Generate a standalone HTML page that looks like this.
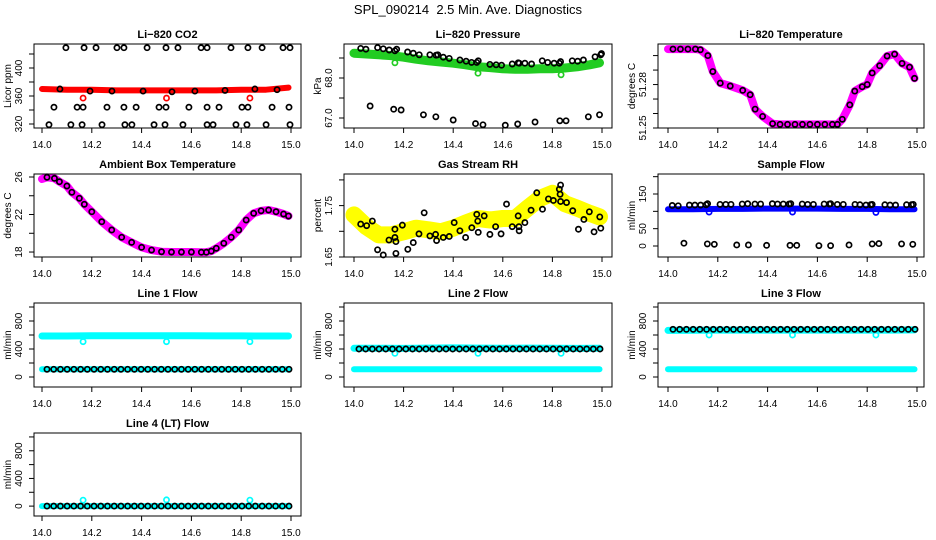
<!DOCTYPE html>
<html><head><meta charset="utf-8"><title>SPL_090214 Diagnostics</title>
<style>
html,body{margin:0;padding:0;background:#fff;}
svg{display:block;font-family:"Liberation Sans",Arial,sans-serif;}
</style></head>
<body>
<svg id="chart" width="936" height="540" viewBox="0 0 936 540" xmlns="http://www.w3.org/2000/svg">
<rect x="0" y="0" width="936" height="540" fill="#fff"/>
<text x="468" y="14" text-anchor="middle" font-size="13">SPL_090214&#160; 2.5 Min. Ave. Diagnostics</text>
</svg>
<script>
// ---------- data ----------
const xTicks = [14.0, 14.2, 14.4, 14.6, 14.8, 15.0];
const xTickLabels = ["14.0", "14.2", "14.4", "14.6", "14.8", "15.0"];
const stepX = [14.0,14.1,14.2,14.3,14.4,14.5,14.6,14.7,14.8,14.9,14.99];
const halfStepX = [14.0,14.05,14.1,14.15,14.2,14.25,14.3,14.35,14.4,14.45,14.5,14.55,14.6,14.65,14.7,14.75,14.8,14.85,14.9,14.95,14.99];
const outlierX = [14.165, 14.5, 14.835];

// CO2
const co2Red = [370,369,369,368,368,368,368,368,369,369,372];
const co2RedOut = [357,357,357];
const co2TopX = [14.096,14.169,14.217,14.301,14.329,14.422,14.498,14.546,14.639,14.663,14.759,14.827,14.884,14.968,14.996];
const co2TopV = [429,429,429,429,429,429,429,429,429,429,429,429,429,429,429];
const co2MidX = [14.072,14.193,14.281,14.406,14.522,14.614,14.735,14.855,14.944];
const co2MidV = [370,367,367,367,366,367,368,370,369];
const co2LowX = [14.048,14.141,14.165,14.261,14.329,14.378,14.470,14.498,14.590,14.663,14.711,14.803,14.827,14.924,14.992];
const co2LowV = [344,344,344,344,344,344,344,344,344,344,344,344,344,344,344];
const co2BotX = [14.028,14.116,14.161,14.241,14.333,14.361,14.450,14.494,14.566,14.663,14.687,14.779,14.823,14.9,14.996];
const co2BotV = [319,319,319,319,319,319,319,319,319,319,319,319,319,319,319];

// Pressure
const presGreen = [68.62,68.6,68.58,68.56,68.52,68.47,68.43,68.4,68.37,68.33,68.28,68.26,68.23,68.22,68.22,68.23,68.23,68.25,68.28,68.33,68.38];
const presGreenOut = [68.38,68.12,68.08];
const presBX = [14.027,14.048,14.095,14.118,14.142,14.165,14.172,14.216,14.239,14.263,14.306,14.331,14.338,14.36,14.384,14.427,14.452,14.474,14.495,14.501,14.548,14.573,14.595,14.638,14.662,14.666,14.689,14.716,14.759,14.781,14.807,14.828,14.833,14.88,14.902,14.925,14.972,14.995,14.998];
const presBV = [68.74,68.72,68.76,68.73,68.70,68.68,68.72,68.65,68.62,68.58,68.58,68.57,68.58,68.52,68.49,68.45,68.42,68.39,68.39,68.43,68.34,68.33,68.32,68.35,68.38,68.37,68.37,68.35,68.43,68.39,68.37,68.37,68.41,68.43,68.42,68.45,68.53,68.58,68.61];
const presLX = [14.065,14.16,14.19,14.28,14.33,14.4,14.49,14.52,14.61,14.66,14.73,14.83,14.855,14.945,14.99];
const presLV = [67.3,67.22,67.2,67.08,67.03,66.95,66.86,66.83,66.82,66.85,66.9,66.93,66.93,67.03,67.08];

// Li-820 temperature
const licTX = [14.0,14.02,14.05,14.08,14.11,14.13,14.16,14.18,14.21,14.25,14.3,14.33,14.35,14.38,14.42,14.45,14.48,14.51,14.54,14.57,14.6,14.63,14.66,14.68,14.7,14.73,14.75,14.78,14.8,14.82,14.85,14.88,14.91,14.94,14.97,14.99];
const licTV = [51.3045,51.3045,51.3045,51.3045,51.3045,51.304,51.300,51.289,51.281,51.279,51.276,51.273,51.263,51.258,51.253,51.2525,51.2525,51.2525,51.2525,51.2525,51.2525,51.2525,51.2525,51.2525,51.256,51.266,51.2755,51.2785,51.28,51.288,51.293,51.2997,51.301,51.2946,51.292,51.2843];

// Ambient box temperature
const ambX = [14.0,14.02,14.05,14.07,14.1,14.12,14.15,14.17,14.2,14.24,14.28,14.32,14.36,14.4,14.44,14.48,14.52,14.56,14.6,14.64,14.66,14.68,14.7,14.73,14.76,14.79,14.82,14.85,14.88,14.91,14.94,14.97,14.99];
const ambV = [25.79,25.97,25.86,25.5,25.04,24.37,23.73,23.09,22.3,21.23,20.35,19.57,19.03,18.5,18.21,18.03,18.0,18.0,18.0,17.98,17.98,18.1,18.4,18.93,19.57,20.35,21.41,22.13,22.4,22.48,22.3,22.05,21.84];

// Gas stream RH
const rhYellow = [1.732,1.709,1.693,1.693,1.699,1.706,1.703,1.699,1.706,1.716,1.725,1.722,1.725,1.725,1.745,1.764,1.774,1.754,1.745,1.735,1.728];
const rhBX = [14.027,14.051,14.074,14.095,14.118,14.141,14.165,14.165,14.169,14.169,14.195,14.217,14.239,14.262,14.283,14.306,14.329,14.333,14.36,14.384,14.404,14.427,14.45,14.475,14.495,14.499,14.501,14.525,14.548,14.571,14.593,14.615,14.638,14.662,14.665,14.666,14.689,14.714,14.737,14.76,14.784,14.804,14.828,14.831,14.833,14.833,14.857,14.882,14.905,14.927,14.949,14.968,14.991,14.995];
const rhBV = [1.714,1.711,1.720,1.664,1.654,1.683,1.704,1.688,1.680,1.657,1.712,1.665,1.678,1.695,1.736,1.691,1.694,1.682,1.688,1.690,1.717,1.701,1.688,1.707,1.733,1.720,1.698,1.730,1.694,1.709,1.695,1.753,1.709,1.730,1.709,1.701,1.717,1.741,1.775,1.743,1.763,1.760,1.782,1.772,1.790,1.758,1.756,1.740,1.704,1.723,1.738,1.699,1.728,1.706];

// Sample flow
const sfBlue = [106,106,107,107,108,108,108,107,107,106,106];
const sfBlueOut = [98,98,97];
const sfHiX = [14.017,14.041,14.086,14.108,14.131,14.153,14.159,14.209,14.232,14.253,14.298,14.32,14.349,14.372,14.419,14.44,14.463,14.486,14.493,14.539,14.561,14.584,14.627,14.648,14.653,14.68,14.704,14.751,14.771,14.795,14.814,14.82,14.871,14.892,14.914,14.958,14.978,14.985];
const sfHiV = [117,116,118,118,118,119,122,120,120,120,121,122,121,121,122,121,121,121,122,121,120,120,121,121,122,120,120,120,119,118,119,120,119,118,118,119,119,120];
const sfLoX = [14.064,14.158,14.186,14.276,14.323,14.396,14.49,14.517,14.606,14.653,14.727,14.82,14.847,14.938,14.983];
const sfLoV = [8,6,5,3,3,2,2,2,1,1,3,6,7,6,5];

// Line flows (black points at common times)
const flowT = [14.02,14.047,14.074,14.101,14.128,14.155,14.182,14.209,14.236,14.263,14.29,14.317,14.344,14.371,14.398,14.425,14.452,14.479,14.506,14.533,14.56,14.587,14.614,14.641,14.668,14.695,14.722,14.749,14.776,14.803,14.83,14.857,14.884,14.911,14.938,14.965,14.992];
const line1Black = [110,110,110,110,110,110,110,110,110,110,110,110,110,110,110,110,110,110,110,110,110,110,110,110,110,110,110,110,110,110,110,110,110,110,110,110,110];
const line1CyanHi = [586,586,588,590,590,589,588,587,587,586,586];
const line1CyanLo = [110,110,110,110,110,110,110,110,110,110,110];
const line1Out = [505,505,505];
const line2Black = [400,400,400,400,400,400,400,400,400,400,400,400,400,400,400,400,400,400,400,400,400,400,400,400,400,400,400,400,400,400,400,400,400,400,400,400,400];
const line2CyanHi = [410,410,408,412,415,412,410,412,410,408,410];
const line2CyanLo = [110,110,110,110,110,110,110,110,110,110,110];
const line2Out = [338,338,338];
const line3Black = [681,681,681,681,681,681,681,681,681,681,681,681,681,681,681,681,681,681,681,681,681,681,681,681,681,681,681,681,681,681,681,681,681,681,681,681,681];
const line3CyanHi = [666,668,670,670,670,670,670,670,670,670,672];
const line3CyanLo = [110,110,110,110,110,110,110,110,110,110,110];
const line3Out = [600,600,600];
const line4Black = [0,0,0,0,0,0,0,0,0,0,0,0,0,0,0,0,0,0,0,0,0,0,0,0,0,0,0,0,0,0,0,0,0,0,0,0,0];
const line4Cyan = [0,0,0,0,0,0,0,0,0,0,0];
const line4Out = [86,90,86];

// ---------- drawing ----------
const NS = "http://www.w3.org/2000/svg";
const svg = document.getElementById("chart");
const COLS = [{L:34,R:301,x0:42,x1:291},{L:344,R:612,x0:354,x1:602},{L:658,R:924,x0:668,x1:917}];
const ROWS = [{T:44,B:128},{T:174,B:257},{T:303,B:387},{T:433,B:516}];

function el(tag, name, parent) {
  const e = document.createElementNS(NS, tag);
  
  
  parent.appendChild(e);
  return e;
}
function set(e, o) { for (const k in o) e.setAttribute(k, o[k]); return e; }

function panel(ci, ri, key, title, ylab, ymin, ymax, ticks, labels) {
  const c = COLS[ci], r = ROWS[ri];
  const g = el("g", key + "-panel", svg);
  const sx = v => c.x0 + (v - 14) * (c.x1 - c.x0);
  const sy = v => r.B - (v - ymin) / (ymax - ymin) * (r.B - r.T);
  const t = el("text", key + "-title", g);
  set(t, {x:(c.L + c.R) / 2, y:r.T - 6, "text-anchor":"middle", "font-size":11, "font-weight":"bold"});
  t.textContent = title;
  const yl = el("text", key + "-y-axis-title", g);
  set(yl, {transform:`translate(${c.L - 23},${(r.T + r.B) / 2}) rotate(-90)`, "text-anchor":"middle", "font-size":10});
  yl.textContent = ylab;
  xTicks.forEach((v, i) => {
    const tk = el("line", key + "-x-tick", g);
    set(tk, {x1:sx(v), x2:sx(v), y1:r.B, y2:r.B + 5, stroke:"#000", "stroke-width":1});
    const tl = el("text", key + "-x-tick-label", g);
    set(tl, {x:sx(v), y:r.B + 20, "text-anchor":"middle", "font-size":10});
    tl.textContent = xTickLabels[i];
  });
  ticks.forEach(v => {
    const tk = el("line", key + "-y-tick", g);
    set(tk, {x1:c.L - 5, x2:c.L, y1:sy(v), y2:sy(v), stroke:"#000", "stroke-width":1});
  });
  labels.forEach(lb => {
    const tl = el("text", key + "-y-tick-label", g);
    set(tl, {transform:`translate(${c.L - 12},${sy(lb[0])}) rotate(-90)`, "text-anchor":"middle", "font-size":10});
    tl.textContent = lb[1];
  });
  const marks = el("g", key + "-marks", g);
  const box = el("rect", key + "-plot-box", g);
  set(box, {x:c.L, y:r.T, width:c.R - c.L, height:r.B - r.T, fill:"none", stroke:"#000", "stroke-width":1});
  return {sx, sy, g:marks, key};
}
function band(p, xs, vs, color, w, name) {
  const pts = xs.map((x, i) => p.sx(x).toFixed(1) + "," + p.sy(vs[i]).toFixed(1)).join(" ");
  const pl = el("polyline", name, p.g);
  set(pl, {points:pts, fill:"none", stroke:color, "stroke-width":w, "stroke-linejoin":"round", "stroke-linecap":"round"});
}
function pts(p, xs, vs, color, name, r, sw) {
  xs.forEach((x, i) => {
    const ci = el("circle", name, p.g);
    set(ci, {cx:p.sx(x), cy:p.sy(vs[i]), r:r || 2.6, fill:"none", stroke:color, "stroke-width":sw || 1.7});
  });
}

// Li-820 CO2
let p = panel(0, 0, "co2", "Li\u2212820 CO2", "Licor ppm", 314.3, 434.3, [320,340,360,380,400,420], [[320,"320"],[360,"360"],[400,"400"]]);
band(p, stepX, co2Red, "#ff0000", 6, "co2-red-band");
pts(p, outlierX, co2RedOut, "#ff0000", "co2-red-point");
pts(p, co2TopX, co2TopV, "#000", "co2-black-point");
pts(p, co2MidX, co2MidV, "#000", "co2-black-point");
pts(p, co2LowX, co2LowV, "#000", "co2-black-point");
pts(p, co2BotX, co2BotV, "#000", "co2-black-point");

// Pressure
p = panel(1, 0, "pressure", "Li\u2212820 Pressure", "kPa", 66.75, 68.85, [67.0,67.5,68.0,68.5], [[67.0,"67.0"],[68.0,"68.0"]]);
band(p, halfStepX, presGreen, "#22cc22", 9, "pressure-green-band");
pts(p, outlierX, presGreenOut, "#22cc22", "pressure-green-point");
pts(p, presBX, presBV, "#000", "pressure-black-point");
pts(p, presLX, presLV, "#000", "pressure-black-point");

// Li-820 temperature
p = panel(2, 0, "li820-temp", "Li\u2212820 Temperature", "degrees C", 51.25, 51.308, [51.25,51.26,51.27,51.28,51.29,51.30], [[51.25,"51.25"],[51.28,"51.28"]]);
band(p, licTX, licTV, "#ff00ff", 8, "li820-temp-magenta-band");
pts(p, licTX.slice(1), licTV.slice(1), "#000", "li820-temp-black-point");

// Ambient box temperature
p = panel(0, 1, "ambient-temp", "Ambient Box Temperature", "degrees C", 17.47, 26.32, [18,20,22,24,26], [[18,"18"],[22,"22"],[26,"26"]]);
band(p, ambX, ambV, "#ff00ff", 8, "ambient-temp-magenta-band");
pts(p, ambX.slice(1), ambV.slice(1), "#000", "ambient-temp-black-point");

// Gas stream RH
p = panel(1, 1, "rh", "Gas Stream RH", "percent", 1.65, 1.8115, [1.65,1.70,1.75,1.80], [[1.65,"1.65"],[1.75,"1.75"]]);
band(p, halfStepX, rhYellow, "#ffff00", 17, "rh-yellow-band");
pts(p, rhBX, rhBV, "#000", "rh-black-point");

// Sample flow
p = panel(2, 1, "sample-flow", "Sample Flow", "ml/min", -31.7, 207.7, [0,50,100,150,200], [[0,"0"],[50,"50"],[150,"150"]]);
band(p, stepX, sfBlue, "#0000ff", 6, "sample-flow-blue-band");
pts(p, outlierX, sfBlueOut, "#0000ff", "sample-flow-blue-point");
pts(p, sfHiX, sfHiV, "#000", "sample-flow-black-point");
pts(p, sfLoX, sfLoV, "#000", "sample-flow-black-point");

const flowTicks = [0,200,400,600,800,1000];
const flowLabels = [[0,"0"],[400,"400"],[800,"800"]];
// Line 1
p = panel(0, 2, "line1", "Line 1 Flow", "ml/min", -143, 1057, flowTicks, flowLabels);
band(p, stepX, line1CyanHi, "#00ffff", 7, "line1-cyan-band");
band(p, stepX, line1CyanLo, "#00ffff", 6, "line1-cyan-low-band");
pts(p, outlierX, line1Out, "#00ffff", "line1-cyan-point");
pts(p, flowT, line1Black, "#000", "line1-black-point");
// Line 2
p = panel(1, 2, "line2", "Line 2 Flow", "ml/min", -143, 1057, flowTicks, flowLabels);
band(p, stepX, line2CyanHi, "#00ffff", 7, "line2-cyan-band");
band(p, stepX, line2CyanLo, "#00ffff", 6, "line2-cyan-low-band");
pts(p, outlierX, line2Out, "#00ffff", "line2-cyan-point");
pts(p, flowT, line2Black, "#000", "line2-black-point");
// Line 3
p = panel(2, 2, "line3", "Line 3 Flow", "ml/min", -143, 1057, flowTicks, flowLabels);
band(p, stepX, line3CyanHi, "#00ffff", 7, "line3-cyan-band");
band(p, stepX, line3CyanLo, "#00ffff", 6, "line3-cyan-low-band");
pts(p, outlierX, line3Out, "#00ffff", "line3-cyan-point");
pts(p, flowT, line3Black, "#000", "line3-black-point");
// Line 4
p = panel(0, 3, "line4", "Line 4 (LT) Flow", "ml/min", -143, 1057, flowTicks, flowLabels);
band(p, stepX, line4Cyan, "#00ffff", 6, "line4-cyan-band");
pts(p, outlierX, line4Out, "#00ffff", "line4-cyan-point");
pts(p, flowT, line4Black, "#000", "line4-black-point");
</script>
</body></html>
